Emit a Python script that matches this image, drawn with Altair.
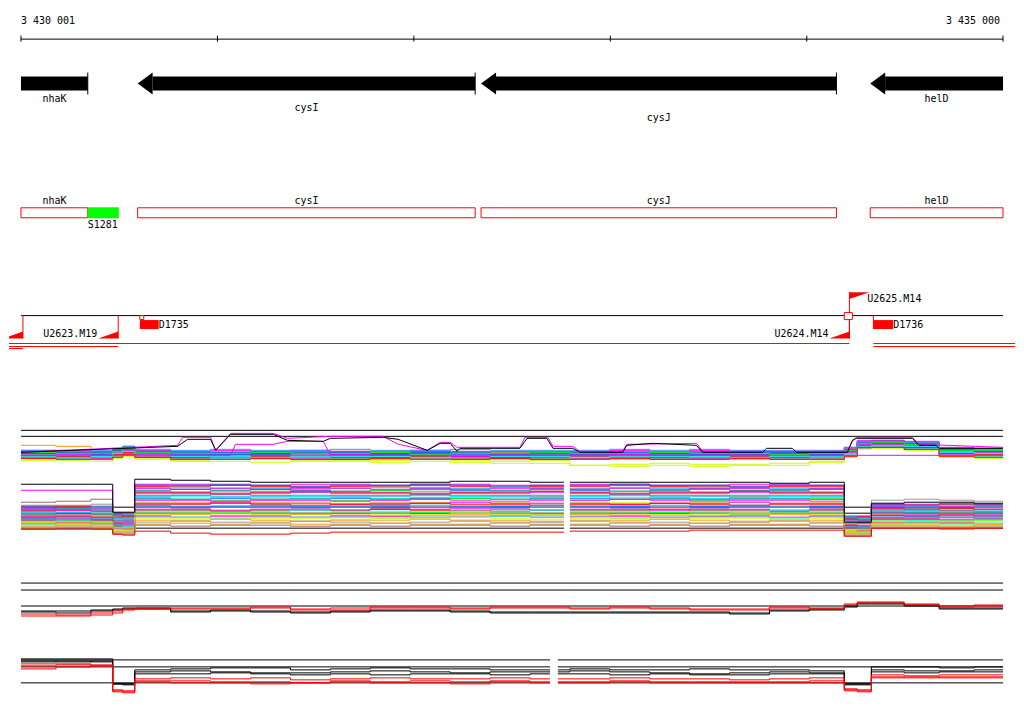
import altair as alt
import pandas as pd

# ------------------------------------------------------------------ data
X_START, X_END = 3430001, 3435000
XDOM = [3429940, 3435061]

ruler_ticks = [3430001, 3431001, 3432001, 3433001, 3434001, 3435000]

gene_names = ["nhaK", "cysI", "cysJ", "helD"]
gene_start = [3429310, 3430595, 3432343, 3434324]
gene_end = [3430341, 3432313, 3434152, 3435820]
gene_label_lane = [0, 1, 2, 0]

site_names = ["S1281"]
site_start = [3430341]
site_end = [3430499]

tu_minus_names = ["", "U2623.M19", "U2624.M14"]
tu_minus_end = [3430011, 3430496, 3434218]
tu_plus_names = ["U2625.M14"]
tu_plus_start = [3434218]

term_names = ["D1735", "D1736"]
term_start = [3430606, 3434340]
term_end = [3430702, 3434441]

marker_start = [3430606, 3434192]
marker_end = [3430626, 3434233]

span_start = [3428900, 3428900, 3428900, 3434340, 3434340]
span_end = [3434218, 3430496, 3430011, 3436000, 3436000]
span_lane = [0, 1, 2, 0, 1]

track2_gap = [3432765, 3432795]
track4_gap = [3432694, 3432734]

probes = [3430001, 3430179, 3430357, 3430468, 3430519, 3430580, 3430763, 3430966,
          3431170, 3431373, 3431576, 3431779, 3431982, 3432186, 3432389, 3432592,
          3432795, 3432998, 3433202, 3433405, 3433608, 3433811, 3434014, 3434192,
          3434258, 3434330, 3434497, 3434675, 3434853]
probe_last = 3435000

# track 1 (signal above panel bottom)
t1_magenta_1 = [19,19,18,20,22,19,18,18,19,19,18,18,19,17,18,18,18,19,18,19,19,18,19,22,29,30,28,22,21]
t1_cyan_1 = [16,15,16,18,21,17,15,16,16,15,15,14,16,15,15,16,15,14,15,16,15,16,15,19,26,27,25,20,19]
t1_blue_1 = [18,17,17,21,24,19,16,17,17,16,17,16,16,17,16,16,17,18,16,17,18,17,16,20,27,28,26,21,20]
t1_orange_1 = [25,24,15,20,23,18,14,14,15,15,13,14,15,13,14,15,14,14,15,14,15,14,14,18,24,25,24,17,17]
t1_green_1 = [14,13,14,16,18,15,13,13,12,13,14,13,12,13,13,14,12,13,13,12,13,13,14,17,24,25,23,17,16]
t1_lime_1 = [11,11,12,13,15,12,10,11,11,10,10,10,11,10,9,10,5,6,7,6,6,7,9,14,22,23,21,14,14]
t1_red_1 = [17,18,17,20,23,18,17,16,17,17,16,17,18,16,17,17,16,17,17,16,17,17,17,20,28,28,27,20,19]
t1_gray_1 = [16,16,15,17,19,16,16,15,14,16,15,15,15,16,14,15,16,15,14,15,16,16,15,19,25,26,24,19,18]
t1_brown_1 = [17,17,16,18,20,17,17,17,16,17,17,16,17,17,16,17,17,16,17,17,16,17,17,20,27,27,25,20,20]
t1_magenta_2 = [13,12,12,15,17,14,12,12,13,12,11,12,13,12,12,11,12,12,11,12,12,11,12,15,23,24,22,16,15]
t1_sky_1 = [15,14,14,17,20,16,14,14,15,14,14,15,14,14,13,14,14,13,14,15,14,14,13,17,25,26,24,18,17]
t1_cyan_2 = [12,12,13,14,16,13,11,12,12,11,12,11,12,11,11,12,11,11,12,11,11,12,11,16,23,24,22,15,14]
t1_orange_2 = [18,19,18,21,24,19,18,19,18,18,19,18,17,18,18,17,18,19,18,18,17,18,18,21,28,29,27,21,21]
t1_red_2 = [14,14,13,16,18,15,13,13,14,14,13,13,14,14,13,13,14,14,13,13,14,13,14,17,25,25,23,17,16]
t1_lime_2 = [10,10,9,12,14,11,9,9,8,9,9,8,9,8,7,7,5,4,5,4,5,5,8,13,21,22,20,13,12]
t1_magenta_3 = [20,20,19,21,23,20,19,20,19,20,19,19,20,19,19,19,19,20,19,20,19,19,19,23,30,30,29,23,22]
t1_gray_2 = [12,13,13,14,15,13,12,13,12,13,12,12,12,12,12,12,13,12,12,13,12,12,12,15,22,23,21,15,15]
t1_blue_2 = [19,18,18,20,21,19,18,18,18,18,18,17,18,18,17,18,18,18,17,18,18,18,18,21,28,29,27,21,20]
t1_blue_3 = [17,16,16,19,22,18,16,16,16,17,16,16,17,16,16,17,16,16,17,16,16,17,16,19,27,27,26,20,19]
t1_magenta_4 = [15,16,15,17,20,16,15,14,15,15,16,15,15,14,15,15,15,16,15,15,15,14,15,18,26,26,24,18,18]
t1_green_2 = [18,17,17,19,22,18,17,17,18,17,17,18,16,17,17,18,17,17,18,17,17,16,17,20,27,28,26,20,20]
t1_cyan_3 = [14,15,14,17,19,15,14,14,13,14,14,14,13,15,14,14,13,14,14,14,13,14,14,17,24,25,24,18,17]
t1_red_3 = [12,11,11,13,16,13,11,11,12,11,11,12,11,11,12,11,11,12,11,11,12,11,11,14,23,23,21,14,13]
t1_sky_2 = [20,19,20,22,24,21,20,21,20,20,21,20,20,21,20,20,20,21,20,21,20,20,20,23,29,29,28,22,22]

t1_black_pos = [3430001, 3430799, 3430849, 3430966, 3430992, 3431068, 3431286, 3431357, 3431540, 3431576,
                3431845, 3431921, 3432069, 3432135, 3432186, 3432221, 3432236, 3432541, 3432577, 3432678,
                3432709, 3432810, 3432846, 3433064, 3433085, 3433217, 3433440, 3433471, 3433776, 3433796,
                3433928, 3433948, 3434208, 3434233, 3434253, 3434538, 3434573, 3434660, 3434675, 3435000]
t1_black_val = [18,24,31,31,20,36,36,30,29,32,33,31,20,27,27,19,22,22,32,32,
                22,22,18,18,25,27,25,18,18,22,22,18,18,30,32,32,25,25,22,22]
t1_pink_a_pos = [3430001, 3430799, 3430824, 3430966, 3430992, 3431068, 3431286, 3431357, 3431576, 3431845,
                 3431921, 3432069, 3432135, 3432186, 3432221, 3432541, 3432567, 3432683, 3432709, 3432810,
                 3432846, 3433064, 3433085, 3433440, 3433471, 3434208, 3434233, 3434253, 3434538, 3434573, 3435000]
t1_pink_a_val = [18,25,33,33,20,37,37,32,34,34,26,20,28,28,23,23,33,33,24,24,19,19,26,27,19,19,29,33,33,26,23]
t1_pink_b_pos = [3430001, 3431068, 3431093, 3431286, 3431357, 3431540, 3431576, 3435000]
t1_pink_b_val = [15,15,26,26,29,29,15,15]

# track 2
t2_magenta_1 = [55,55,55,32,31,61,61,60,60,61,61,60,61,61,60,60,61,61,60,60,61,61,60,29,29,41,41,42,41]
t2_blue_3 = [39,38,39,32,31,60,60,61,60,59,60,60,61,60,59,60,60,61,60,60,59,60,60,29,28,41,40,41,41]
t2_red_1 = [38,39,38,31,32,59,59,60,59,58,59,59,60,59,58,59,59,60,59,59,58,59,59,28,29,40,40,41,40]
t2_cyan_1 = [37,37,38,30,31,57,58,57,57,56,57,58,57,57,58,57,56,57,57,58,57,57,56,28,27,39,39,40,39]
t2_magenta_6 = [37,36,37,30,30,57,56,57,56,57,57,56,57,56,57,57,56,57,56,57,57,56,57,27,28,39,38,39,39]
t2_blue_1 = [36,37,36,30,29,55,56,55,56,55,54,55,56,55,55,56,55,54,55,56,55,55,56,27,26,38,38,37,38]
t2_green_1 = [35,36,35,29,28,54,53,54,54,53,54,55,54,53,54,54,53,54,54,53,54,54,53,26,26,37,37,37,38]
t2_red_4 = [35,35,34,28,29,53,53,52,53,54,53,53,52,53,53,54,53,52,53,53,54,53,53,26,25,37,36,37,36]
t2_magenta_2 = [34,35,34,28,27,52,52,51,52,53,52,52,51,52,52,53,52,51,52,52,53,52,52,25,25,36,36,35,36]
t2_brown_1 = [43,44,46,27,27,50,50,51,50,49,50,50,51,50,50,49,50,51,50,50,49,50,50,24,24,35,35,35,34]
t2_sky_2 = [33,33,34,27,26,49,50,49,49,50,49,49,50,49,49,50,49,50,49,49,50,49,49,24,24,34,35,34,34]
t2_cyan_2 = [32,33,32,26,26,48,49,48,48,49,48,47,48,49,48,48,49,48,48,47,48,49,48,23,23,34,34,33,34]
t2_blue_2 = [31,32,31,25,25,47,46,47,46,47,47,46,47,47,46,47,47,46,47,46,47,47,46,22,23,33,33,32,33]
t2_green_3 = [31,30,31,25,24,46,46,45,46,46,45,46,46,47,46,46,45,46,46,45,46,46,47,22,22,32,32,33,32]
t2_magenta_3 = [30,31,30,24,24,45,45,44,45,45,44,45,46,45,44,45,45,46,45,44,45,45,44,21,22,32,31,32,31]
t2_lime_1 = [29,30,29,23,23,43,43,42,43,43,42,43,43,44,43,42,43,43,42,43,43,42,43,21,20,31,30,31,30]
t2_magenta_7 = [29,29,28,23,23,42,42,43,42,42,41,42,42,43,42,42,42,41,42,42,43,42,42,20,20,30,30,31,30]
t2_red_2 = [28,29,28,22,22,41,41,42,41,40,41,41,42,41,41,40,41,41,42,41,40,41,41,20,19,30,29,30,29]
t2_sky_1 = [27,28,27,21,22,40,39,39,40,39,39,40,40,39,39,40,39,39,40,39,40,39,39,19,19,28,29,28,29]
t2_blue_4 = [27,27,26,21,21,39,38,39,39,38,39,39,38,39,39,38,39,39,38,39,39,38,39,19,18,28,28,28,27]
t2_gray_1 = [26,27,26,20,21,38,37,38,38,37,38,37,38,38,37,38,38,37,38,37,38,38,37,18,18,27,27,28,27]
t2_magenta_4 = [25,26,25,19,20,36,36,35,36,36,35,36,36,37,36,35,36,36,35,36,36,35,36,17,17,26,26,26,27]
t2_red_5 = [25,25,25,19,19,35,35,34,35,35,35,36,35,35,34,35,35,35,36,35,35,34,35,17,16,26,26,25,26]
t2_cyan_3 = [24,25,24,18,19,34,34,33,34,35,34,34,33,34,34,35,34,34,33,34,34,35,34,16,16,25,25,25,26]
t2_green_2 = [23,24,23,18,17,32,32,33,32,31,32,32,33,32,32,31,32,32,33,32,31,32,32,15,16,24,24,24,25]
t2_lime_3 = [23,23,22,17,17,31,31,32,31,31,30,31,31,32,31,31,31,30,31,31,32,31,31,15,15,24,23,24,24]
t2_orange_1 = [22,23,22,17,16,30,31,30,30,31,30,29,30,31,30,30,31,30,30,29,30,31,30,14,15,23,23,23,22]
t2_magenta_5 = [21,22,21,16,16,29,28,29,29,28,29,29,28,29,29,28,29,29,28,29,29,28,29,13,14,22,22,22,21]
t2_cyan_4 = [21,21,20,16,15,28,28,27,28,28,28,27,28,28,29,28,28,27,28,28,28,27,28,13,13,21,22,21,22]
t2_lime_2 = [20,21,20,15,15,27,27,26,27,27,26,27,27,28,27,26,27,27,26,27,27,26,27,13,12,21,21,20,21]
t2_orange_2 = [19,20,19,14,14,25,25,26,25,24,25,25,26,25,25,24,25,25,26,25,24,25,25,12,12,20,20,19,20]
t2_gray_2 = [18,19,18,13,13,23,24,23,23,24,23,22,23,24,23,23,24,23,23,22,23,24,23,11,11,19,19,18,19]
t2_orange_3 = [17,18,17,12,12,21,22,21,22,21,21,22,21,21,22,21,21,22,21,22,21,21,22,10,10,18,18,17,18]
t2_brown_2 = [16,17,16,11,11,20,19,20,20,19,20,19,20,20,19,20,20,19,20,19,20,20,19,9,9,17,17,16,17]
t2_gray_3 = [40,40,41,32,32,58,58,57,58,58,57,58,58,57,58,58,57,58,58,57,58,58,57,27,27,45,46,45,44]
t2_red_3 = [16,16,16,11,10,14,12,11,11,12,13,13,13,13,13,13,14,14,14,15,15,15,15,9,9,17,17,17,17]
t2_black_1 = [61,61,61,33,33,66,65,64,63,63,63,63,63,64,64,63,63,63,63,63,63,62,63,23,23,42,43,43,42]

# track 3
t3_black_1 = [19,19,20,21,22,22,19,20,19,18,19,20,20,19,18,18,18,18,18,18,17,20,21,24,27,27,25,22,22]
t3_black_2 = [18,17,19,20,21,21,18,19,18,17,18,19,19,18,17,17,17,17,17,17,16,19,20,23,26,26,24,21,21]
t3_red_1 = [16,15,17,19,21,22,22,22,23,21,22,23,23,22,23,23,22,23,22,21,21,23,22,26,28,28,25,24,25]
t3_red_2 = [14,14,15,17,20,21,21,21,22,20,20,22,22,21,22,22,21,22,21,20,20,22,21,25,27,27,26,23,24]

# track 4
t4_black_1 = [47,47,47,22,22,36,37,38,38,36,37,38,37,37,36,36,37,36,36,37,36,36,35,22,22,39,39,38,39]
t4_black_2 = [44,45,44,22,22,34,35,34,33,33,34,35,34,33,34,34,35,34,33,32,33,34,33,22,22,36,35,35,36]
t4_black_3 = [45,44,45,22,21,32,32,33,32,31,32,31,32,32,31,32,32,31,32,31,31,32,32,21,21,34,33,34,34]
t4_red_1 = [42,42,41,14,13,27,28,27,28,26,27,28,27,27,28,27,27,28,27,27,26,27,28,15,14,31,30,31,31]
t4_red_2 = [37,39,40,15,14,25,25,24,24,23,25,24,25,24,25,24,24,25,24,24,23,24,25,16,15,29,28,29,29]
t4_red_3 = [40,41,40,16,15,24,23,23,22,23,24,23,23,22,24,23,23,24,23,23,24,23,23,17,16,28,29,28,28]

track1_refs = [40, 34]
track2_refs = [38, 32, 17]
track3_refs = [47, 40, 24]
track4_refs = [46, 39, 23]

# ------------------------------------------------------------------ style
W = 1008
FONT = "DejaVu Sans Mono"
COLORS = {"magenta": "#FF00FF", "cyan": "#00FFFF", "blue": "#0066FF", "sky": "#3399FF",
          "orange": "#FF9900", "green": "#00FF00", "lime": "#CCFF00", "red": "#FF0000",
          "gray": "#999999", "brown": "#996666", "black": "#000000", "pink": "#FF00FF"}
HEAD_BP = 76
HEAD = "M0,0L1.364,-1L1.364,1Z"
RAMP = "M0,0L-2,0L0,-0.7Z"
FLAG = "M0,0L2,0L0,0.7Z"

xs = alt.Scale(domain=XDOM, nice=False, zero=False)


def xq(f):
    return alt.X(f"{f}:Q", scale=xs, axis=None)


def txt(**kw):
    base = dict(font=FONT, fontSize=10, color="black", baseline="alphabetic")
    base.update(kw)
    return base


def ident_y(f):
    return alt.Y(f"{f}:Q", scale=None, axis=None)


span_df = pd.DataFrame({"a": [X_START], "b": [X_END]})

# ------------------------------------------------------------------ panel 1: ruler + gene arrows
ruler = pd.DataFrame({"pos": ruler_ticks})
ruler["label"] = [f"{v:,}".replace(",", " ") for v in ruler_ticks]

genes = pd.DataFrame({"name": gene_names, "start": gene_start, "end": gene_end, "lane": gene_label_lane})
genes["vis0"] = genes["start"].clip(lower=X_START)
genes["vis1"] = genes["end"].clip(upper=X_END)
genes["s0"] = (genes["start"] + HEAD_BP).clip(lower=X_START)
genes["mid"] = (genes["vis0"] + genes["vis1"]) / 2
genes["ly"] = 93 + 10 * genes["lane"]
heads = genes[genes["start"] >= X_START]
bars = genes[genes["end"] <= X_END]

p1 = alt.layer(
    alt.Chart(span_df).mark_rule(color="black", strokeWidth=1).encode(x=xq("a"), x2="b", y=alt.value(30.5)),
    alt.Chart(ruler).mark_rule(color="black", strokeWidth=1).encode(x=xq("pos"), y=alt.value(27), y2=alt.value(33)),
    alt.Chart(ruler.iloc[[0]]).mark_text(**txt(align="left")).encode(x=xq("pos"), y=alt.value(15), text="label:N"),
    alt.Chart(ruler.iloc[[-1]]).mark_text(**txt(align="right", dx=-3)).encode(x=xq("pos"), y=alt.value(15), text="label:N"),
    alt.Chart(genes).mark_rect(color="black").encode(x=xq("s0"), x2="vis1", y=alt.value(68), y2=alt.value(82)),
    alt.Chart(heads).mark_point(shape=HEAD, size=484, filled=True, color="black", opacity=1, strokeWidth=0)
    .encode(x=xq("start"), y=alt.value(75)),
    alt.Chart(bars).mark_rule(color="black", strokeWidth=1).encode(x=xq("end"), y=alt.value(64), y2=alt.value(86)),
    alt.Chart(genes).mark_text(**txt(align="center")).encode(x=xq("mid"), y=ident_y("ly"), text="name:N"),
).properties(width=W, height=132)

# ------------------------------------------------------------------ panel 2: gene boxes
sites = pd.DataFrame({"name": site_names, "start": site_start, "end": site_end})
p2 = alt.layer(
    alt.Chart(genes).mark_rect(fill="white", stroke="red", strokeWidth=1)
    .encode(x=xq("vis0"), x2="vis1", y=alt.value(67.5), y2=alt.value(77.5)),
    alt.Chart(sites).mark_rect(color="#00FF00").encode(x=xq("start"), x2="end", y=alt.value(67), y2=alt.value(78)),
    alt.Chart(genes).mark_text(**txt(align="center")).encode(x=xq("mid"), y=alt.value(64), text="name:N"),
    alt.Chart(sites).mark_text(**txt(align="left")).encode(x=xq("start"), y=alt.value(88), text="name:N"),
).properties(width=W, height=110)

# ------------------------------------------------------------------ panel 3: transcription units
tu_minus = pd.DataFrame({"name": tu_minus_names, "end": tu_minus_end})
tu_plus = pd.DataFrame({"name": tu_plus_names, "start": tu_plus_start})
terms = pd.DataFrame({"name": term_names, "start": term_start, "end": term_end})
markers = pd.DataFrame({"start": marker_start, "end": marker_end})
spans = pd.DataFrame({"start": span_start, "end": span_end, "lane": span_lane})
spans["s0"] = spans["start"].clip(lower=XDOM[0])
spans["s1"] = spans["end"].clip(upper=XDOM[1])
spans["ly"] = spans["lane"].map({0: 93.5, 1: 96.5, 2: 98.5})

p3 = alt.layer(
    alt.Chart(span_df).mark_rule(color="black", strokeWidth=1).encode(x=xq("a"), x2="b", y=alt.value(65.5)),
    alt.Chart(spans).mark_rule(color="red", strokeWidth=1).encode(x=xq("s0"), x2="s1", y=ident_y("ly")),
    alt.Chart(tu_minus).mark_rule(color="red", strokeWidth=1).encode(x=xq("end"), y=alt.value(65), y2=alt.value(88.5)),
    alt.Chart(tu_plus).mark_rule(color="red", strokeWidth=1).encode(x=xq("start"), y=alt.value(42), y2=alt.value(88.5)),
    alt.Chart(terms.iloc[[1]]).mark_rule(color="red", strokeWidth=1).encode(x=xq("start"), y=alt.value(65), y2=alt.value(79)),
    alt.Chart(markers.iloc[[0]]).mark_rect(fill="white", stroke="red", strokeWidth=1)
    .encode(x=xq("start"), x2="end", y=alt.value(65.5), y2=alt.value(69.5)),
    alt.Chart(markers.iloc[[1]]).mark_rect(fill="white", stroke="red", strokeWidth=1)
    .encode(x=xq("start"), x2="end", y=alt.value(62.5), y2=alt.value(69.5)),
    alt.Chart(terms).mark_rect(color="red").encode(x=xq("start"), x2="end", y=alt.value(70), y2=alt.value(79)),
    alt.Chart(tu_minus).mark_point(shape=RAMP, size=400, filled=True, color="red", opacity=1, strokeWidth=0, clip=True)
    .encode(x=xq("end"), y=alt.value(88.5)),
    alt.Chart(tu_plus).mark_point(shape=FLAG, size=400, filled=True, color="red", opacity=1, strokeWidth=0)
    .encode(x=xq("start"), y=alt.value(42)),
    alt.Chart(tu_minus[tu_minus["name"] != ""]).mark_text(**txt(align="right", dx=-21))
    .encode(x=xq("end"), y=alt.value(87), text="name:N"),
    alt.Chart(tu_plus).mark_text(**txt(align="left", dx=18)).encode(x=xq("start"), y=alt.value(52), text="name:N"),
    alt.Chart(terms).mark_text(**txt(align="left", dx=0)).encode(x=xq("end"), y=alt.value(78), text="name:N"),
).properties(width=W, height=120)


# ------------------------------------------------------------------ signal panels
def long_df(series):
    rows = []
    for name, vals in series.items():
        for p, v in zip(probes, vals):
            rows.append((name, p, v))
        rows.append((name, probe_last, vals[-1]))
    df = pd.DataFrame(rows, columns=["series", "pos", "val"])
    df["color"] = df["series"].map(lambda s: COLORS[s.split("_")[1]])
    return df


def free_df(series):
    rows = []
    for name, (pos, vals) in series.items():
        for p, v in zip(pos, vals):
            rows.append((name, p, v))
    df = pd.DataFrame(rows, columns=["series", "pos", "val"])
    df["color"] = df["series"].map(lambda s: COLORS[s.split("_")[1]])
    return df


def signal_panel(h, series, refs, extra=None, gap=None):
    ys = alt.Scale(domain=[0.5, h + 0.5], nice=False, zero=False)
    refdf = pd.DataFrame({"a": X_START, "b": X_END, "v": refs})
    layers = [
        alt.Chart(refdf).mark_rule(color="black", strokeWidth=1)
        .encode(x=xq("a"), x2="b", y=alt.Y("v:Q", scale=ys, axis=None)),
        alt.Chart(long_df(series)).mark_line(interpolate="step-after", strokeWidth=1)
        .encode(x=xq("pos"), y=alt.Y("val:Q", scale=ys, axis=None),
                color=alt.Color("color:N", scale=None), detail="series:N"),
    ]
    if extra is not None:
        layers.append(
            alt.Chart(free_df(extra)).mark_line(interpolate="linear", strokeWidth=1)
            .encode(x=xq("pos"), y=alt.Y("val:Q", scale=ys, axis=None),
                    color=alt.Color("color:N", scale=None), detail="series:N"))
    if gap is not None:
        gdf = pd.DataFrame({"g0": [gap[0]], "g1": [gap[1]]})
        layers.append(alt.Chart(gdf).mark_rect(color="white")
                      .encode(x=xq("g0"), x2="g1", y=alt.value(0), y2=alt.value(h)))
    return alt.layer(*layers).properties(width=W, height=h)


track1 = {
    "t1_magenta_1": t1_magenta_1, "t1_cyan_1": t1_cyan_1, "t1_blue_1": t1_blue_1,
    "t1_orange_1": t1_orange_1, "t1_green_1": t1_green_1, "t1_lime_1": t1_lime_1,
    "t1_red_1": t1_red_1, "t1_gray_1": t1_gray_1, "t1_brown_1": t1_brown_1,
    "t1_magenta_2": t1_magenta_2, "t1_sky_1": t1_sky_1, "t1_cyan_2": t1_cyan_2,
    "t1_orange_2": t1_orange_2, "t1_red_2": t1_red_2, "t1_lime_2": t1_lime_2,
    "t1_magenta_3": t1_magenta_3, "t1_gray_2": t1_gray_2, "t1_blue_2": t1_blue_2,
    "t1_blue_3": t1_blue_3, "t1_magenta_4": t1_magenta_4, "t1_green_2": t1_green_2,
    "t1_cyan_3": t1_cyan_3, "t1_red_3": t1_red_3, "t1_sky_2": t1_sky_2,
}
track1_extra = {
    "t1_pink_b": (t1_pink_b_pos, t1_pink_b_val),
    "t1_pink_a": (t1_pink_a_pos, t1_pink_a_val),
    "t1_black_a": (t1_black_pos, t1_black_val),
}
track2 = {
    "t2_gray_3": t2_gray_3, "t2_magenta_1": t2_magenta_1, "t2_blue_3": t2_blue_3, "t2_red_1": t2_red_1,
    "t2_cyan_1": t2_cyan_1, "t2_magenta_6": t2_magenta_6, "t2_blue_1": t2_blue_1,
    "t2_green_1": t2_green_1, "t2_red_4": t2_red_4, "t2_magenta_2": t2_magenta_2,
    "t2_brown_1": t2_brown_1, "t2_sky_2": t2_sky_2, "t2_cyan_2": t2_cyan_2, "t2_blue_2": t2_blue_2,
    "t2_green_3": t2_green_3, "t2_magenta_3": t2_magenta_3, "t2_lime_1": t2_lime_1,
    "t2_magenta_7": t2_magenta_7, "t2_red_2": t2_red_2, "t2_sky_1": t2_sky_1,
    "t2_blue_4": t2_blue_4, "t2_gray_1": t2_gray_1, "t2_magenta_4": t2_magenta_4,
    "t2_red_5": t2_red_5, "t2_cyan_3": t2_cyan_3, "t2_green_2": t2_green_2,
    "t2_lime_3": t2_lime_3, "t2_orange_1": t2_orange_1, "t2_magenta_5": t2_magenta_5,
    "t2_cyan_4": t2_cyan_4, "t2_lime_2": t2_lime_2, "t2_orange_2": t2_orange_2,
    "t2_gray_2": t2_gray_2, "t2_orange_3": t2_orange_3, "t2_brown_2": t2_brown_2,
    "t2_red_3": t2_red_3, "t2_black_1": t2_black_1,
}
track3 = {"t3_black_1": t3_black_1, "t3_black_2": t3_black_2, "t3_red_1": t3_red_1, "t3_red_2": t3_red_2}
track4 = {"t4_black_1": t4_black_1, "t4_black_2": t4_black_2, "t4_black_3": t4_black_3,
          "t4_red_1": t4_red_1, "t4_red_2": t4_red_2, "t4_red_3": t4_red_3}

p4 = signal_panel(100, track1, track1_refs, extra=track1_extra)
p5 = signal_panel(75, track2, track2_refs, gap=track2_gap)
p6 = signal_panel(85, track3, track3_refs)
p7 = signal_panel(76, track4, track4_refs, gap=track4_gap)

chart = (
    alt.vconcat(p1, p2, p3, p4, p5, p6, p7, spacing=0, bounds="flush")
    .properties(padding=0)
    .configure_view(strokeWidth=0)
    .configure_concat(spacing=0)
)
chart.save("out.html", embed_options={"renderer": "svg", "actions": False})
